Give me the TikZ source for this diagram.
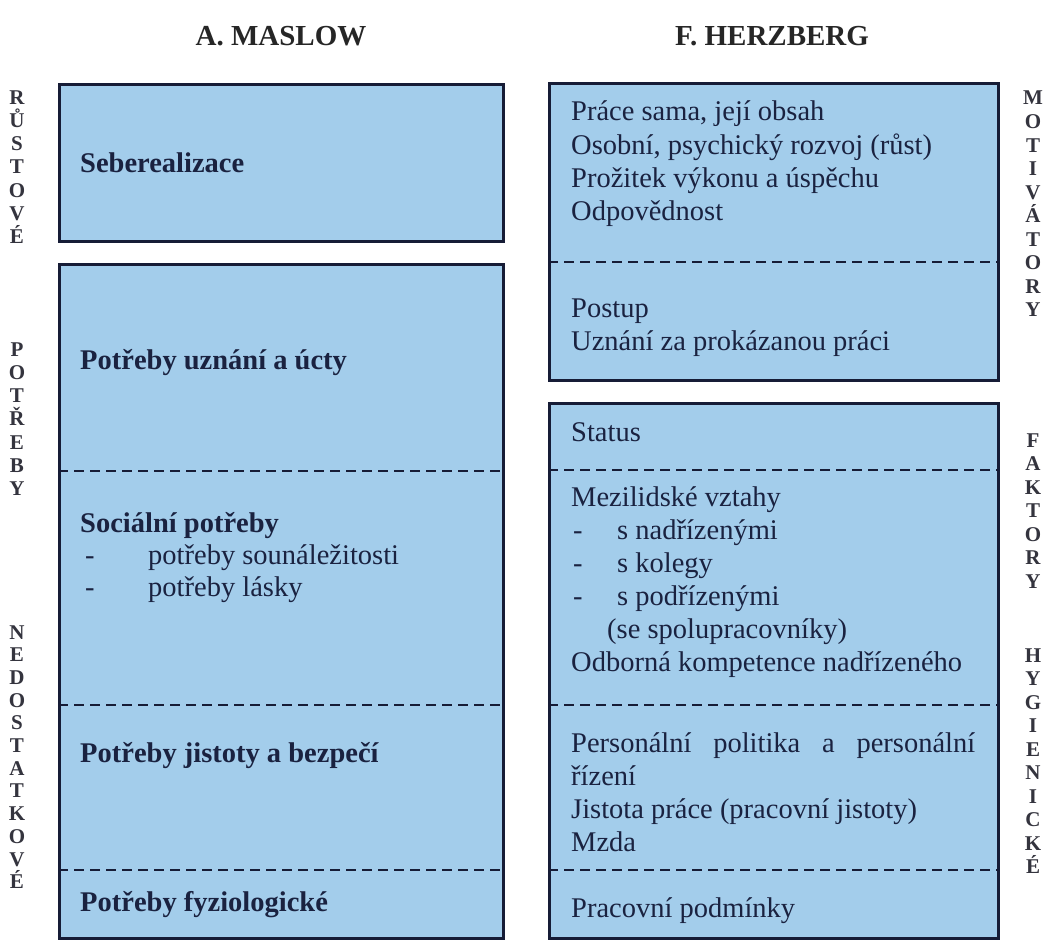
\documentclass[tikz,border=0pt]{standalone}
\usepackage{fontspec}
\setmainfont{Liberation Serif}
\usetikzlibrary{positioning,calc}
\definecolor{boxblue}{HTML}{A3CDEB}
\definecolor{boxnavy}{HTML}{161C36}
\definecolor{inknavy}{HTML}{1A2240}
\definecolor{sidegray}{HTML}{34343E}
\tikzset{
  % rámečky
  panel/.style={draw=boxnavy,fill=boxblue,line width=2.8pt,inner sep=0pt,anchor=north west},
  sep/.style={draw=boxnavy,line width=2.2pt,dash pattern=on 10pt off 6pt},
  % texty
  hd/.style={font=\fontsize{29}{32}\selectfont\bfseries,text=black!85,inner sep=0pt},
  need/.style={font=\fontsize{28.5}{33}\selectfont\bfseries,text=inknavy,inner sep=0pt,anchor=base west},
  item/.style={font=\fontsize{28.5}{33}\selectfont,text=inknavy,inner sep=0pt,anchor=base west},
  side/.style={font=\fontsize{21}{23}\selectfont\bfseries,text=sidegray,inner sep=0pt,anchor=base},
}
\begin{document}
\begin{tikzpicture}[x=1pt,y=-1pt]
  \useasboundingbox (0,0) rectangle (1048,939);
  \fill[white] (0,0) rectangle (1048,939);
  % nadpisy
  \node[hd] (maslow) at (281,36) {A. MASLOW};
  \node[hd] (herzberg) at (772,36) {F. HERZBERG};
  % Maslow
  \node[panel,minimum width=444pt,minimum height=157pt] (self) at (58,83) {};
  \node[panel,minimum width=444pt,minimum height=674pt] (defic) at (58,263) {};
  \foreach \y in {471,705,870} \draw[sep] (defic.west |- 0,\y) -- (defic.east |- 0,\y);
  \node[need] (selfr) at (80,172) {Seberealizace};
  \node[need] (esteem) at (80,369) {Potřeby uznání a úcty};
  \node[need] (social) at (80,532) {Sociální potřeby};
  \node[item] (belong) at (85,564) {\makebox[63pt][l]{-}potřeby sounáležitosti};
  \node[item] (love) at (85,596) {\makebox[63pt][l]{-}potřeby lásky};
  \node[need] (safety) at (80,762) {Potřeby jistoty a bezpečí};
  \node[need] (phys) at (80,911) {Potřeby fyziologické};
  % Herzberg
  \node[panel,minimum width=449pt,minimum height=297pt] (motiv) at (548,82) {};
  \node[panel,minimum width=449pt,minimum height=535pt] (hyg) at (548,402) {};
  \draw[sep] (motiv.west |- 0,262) -- (motiv.east |- 0,262);
  \foreach \y in {470,705,870} \draw[sep] (hyg.west |- 0,\y) -- (hyg.east |- 0,\y);
  \foreach \txt [count=\i from 0] in {{Práce sama, její obsah},{Osobní, psychický rozvoj (růst)},
      {Prožitek výkonu a úspěchu},{Odpovědnost}}
    \node[item] (mot\i) at (571,121+33*\i) {\txt};
  \node[item] (advance) at (571,317) {Postup};
  \node[item] (recog) at (571,350) {Uznání za prokázanou práci};
  \node[item] (status) at (571,441) {Status};
  \node[item] (rel) at (571,506) {Mezilidské vztahy};
  \foreach \txt [count=\i from 1] in {s nadřízenými,s kolegy,s podřízenými}
    \node[item] (rel\i) at (573,506+33*\i) {\makebox[44pt][l]{-}\txt};
  \node[item] (relco) at (607,638) {(se spolupracovníky)};
  \node[item] (compet) at (571,671) {Odborná kompetence nadřízeného};
  \node[item] (pers) at (571,752) {\makebox[404pt][s]{Personální politika a personální}};
  \node[item] (persb) at (571,785) {řízení};
  \node[item] (secur) at (571,818) {Jistota práce (pracovní jistoty)};
  \node[item] (wage) at (571,851) {Mzda};
  \node[item] (cond) at (571,917) {Pracovní podmínky};
  % svislé popisky
  \foreach \ch [count=\i from 0] in {R,Ů,S,T,O,V,É}
    \node[side] (ru\i) at (17,104+23.3*\i) {\ch};
  \foreach \ch [count=\i from 0] in {P,O,T,Ř,E,B,Y}
    \node[side] (po\i) at (17,356+23.3*\i) {\ch};
  \foreach \ch [count=\i from 0] in {N,E,D,O,S,T,A,T,K,O,V,É}
    \node[side] (ne\i) at (17,639+22.7*\i) {\ch};
  \foreach \ch [count=\i from 0] in {M,O,T,I,V,Á,T,O,R,Y}
    \node[side] (mo\i) at (1033,105+23.5*\i) {\ch};
  \foreach \ch [count=\i from 0] in {F,A,K,T,O,R,Y}
    \node[side] (fa\i) at (1033,447+23.5*\i) {\ch};
  \foreach \ch [count=\i from 0] in {H,Y,G,I,E,N,I,C,K,É}
    \node[side] (hy\i) at (1033,662+23.5*\i) {\ch};
\end{tikzpicture}
\end{document}
